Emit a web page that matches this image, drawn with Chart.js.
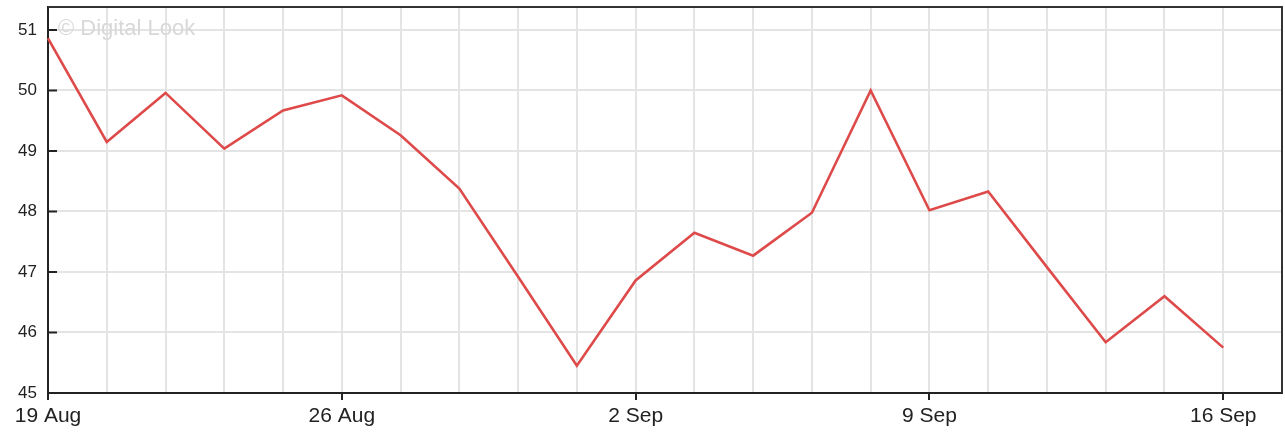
<!DOCTYPE html>
<html>
<head>
<meta charset="utf-8">
<script src="https://cdn.jsdelivr.net/npm/chart.js@4/dist/chart.umd.min.js"></script>
<style>
  body { margin: 0; background: #fff; }
  #wrap { width: 1285px; height: 435px; }
</style>
</head>
<body>
<div id="wrap"><canvas id="myChart"></canvas></div>
<script>
'use strict'

// trading days (the axis runs one day past the last close)
const days = ['19 Aug','20 Aug','21 Aug','22 Aug','23 Aug',
  '26 Aug','27 Aug','28 Aug','29 Aug','30 Aug',
  '2 Sep','3 Sep','4 Sep','5 Sep','6 Sep',
  '9 Sep','10 Sep','11 Sep','12 Sep','13 Sep',
  '16 Sep','17 Sep'];
const prices = [50.86, 49.15, 49.96, 49.04, 49.67,
  49.92, 49.26, 48.38, 46.92, 45.45,
  46.86, 47.65, 47.27, 47.98, 50.0,
  48.02, 48.33, 47.08, 45.84, 46.6,
  45.75];
const xTickLabels = ['19 Aug', '26 Aug', '2 Sep', '9 Sep', '16 Sep'];
const yMin = 45;
const yMax = 51.38;

const frame = {
  id: 'frame',
  beforeDatasetsDraw(chart) {
    const {ctx, chartArea: a} = chart;
    const y = chart.scales.y;
    ctx.save();
    // watermark
    ctx.fillStyle = '#d8d8d8';
    ctx.font = '22px Arial, "Liberation Sans", sans-serif';
    ctx.textBaseline = 'top';
    ctx.fillText('\u00A9 Digital Look', a.left + 10, a.top + 11);
    // inner tick marks on the y axis
    ctx.strokeStyle = '#222';
    ctx.lineWidth = 2;
    y.ticks.forEach(t => {
      const py = y.getPixelForValue(t.value);
      ctx.beginPath();
      ctx.moveTo(a.left, py);
      ctx.lineTo(a.left + 9, py);
      ctx.stroke();
    });
    ctx.restore();
  },
  afterDraw(chart) {
    const {ctx, chartArea: a} = chart;
    ctx.save();
    ctx.strokeStyle = '#333';
    ctx.lineWidth = 2;
    ctx.beginPath();
    ctx.moveTo(a.left, a.top);
    ctx.lineTo(a.right, a.top);
    ctx.lineTo(a.right, a.bottom);
    ctx.stroke();
    ctx.restore();
  }
};

const DocumentReady = () => {
  const el = document.getElementById('myChart');

  new Chart(el, {
    type: 'line',
    data: {
      labels: days,
      datasets: [{
        data: prices,
        borderColor: '#de4a4a',
        borderWidth: 2.6,
        pointRadius: 0,
        tension: 0,
        fill: false
      }]
    },
    options: {
      responsive: true,
      maintainAspectRatio: false,
      animation: false,
      layout: {padding: {top: 7, right: 3, left: 0, bottom: 0}},
      plugins: {legend: {display: false}, tooltip: {enabled: false}},
      scales: {
        x: {
          offset: false,
          afterFit: s => { s.height = 42; s.paddingLeft = 0; s.paddingRight = 0; },
          grid: {
            color: '#e4e4e4',
            lineWidth: 2,
            tickLength: 7,
            tickColor: ctx => xTickLabels.includes(days[ctx.index]) ? '#222' : 'rgba(0,0,0,0)'
          },
          border: {color: '#222', width: 2},
          ticks: {
            autoSkip: false,
            maxRotation: 0,
            padding: 4,
            color: '#222',
            font: {family: 'Arial, "Liberation Sans", sans-serif', size: 21},
            callback: function (v, i) {
              const l = days[i];
              return xTickLabels.includes(l) ? l : '';
            }
          }
        },
        y: {
          min: yMin,
          max: yMax,
          afterFit: s => { s.width = 48; s.paddingTop = 0; s.paddingBottom = 0; },
          afterBuildTicks: s => { s.ticks = s.ticks.filter(t => Number.isInteger(t.value)); },
          grid: {color: '#e4e4e4', lineWidth: 2, drawTicks: false},
          border: {color: '#222', width: 2},
          ticks: {
            stepSize: 1,
            padding: 11,
            color: '#222',
            font: {family: 'Arial, "Liberation Sans", sans-serif', size: 17}
          }
        }
      }
    },
    plugins: [frame]
  });
}

document.addEventListener("DOMContentLoaded", DocumentReady);
</script>
</body>
</html>
